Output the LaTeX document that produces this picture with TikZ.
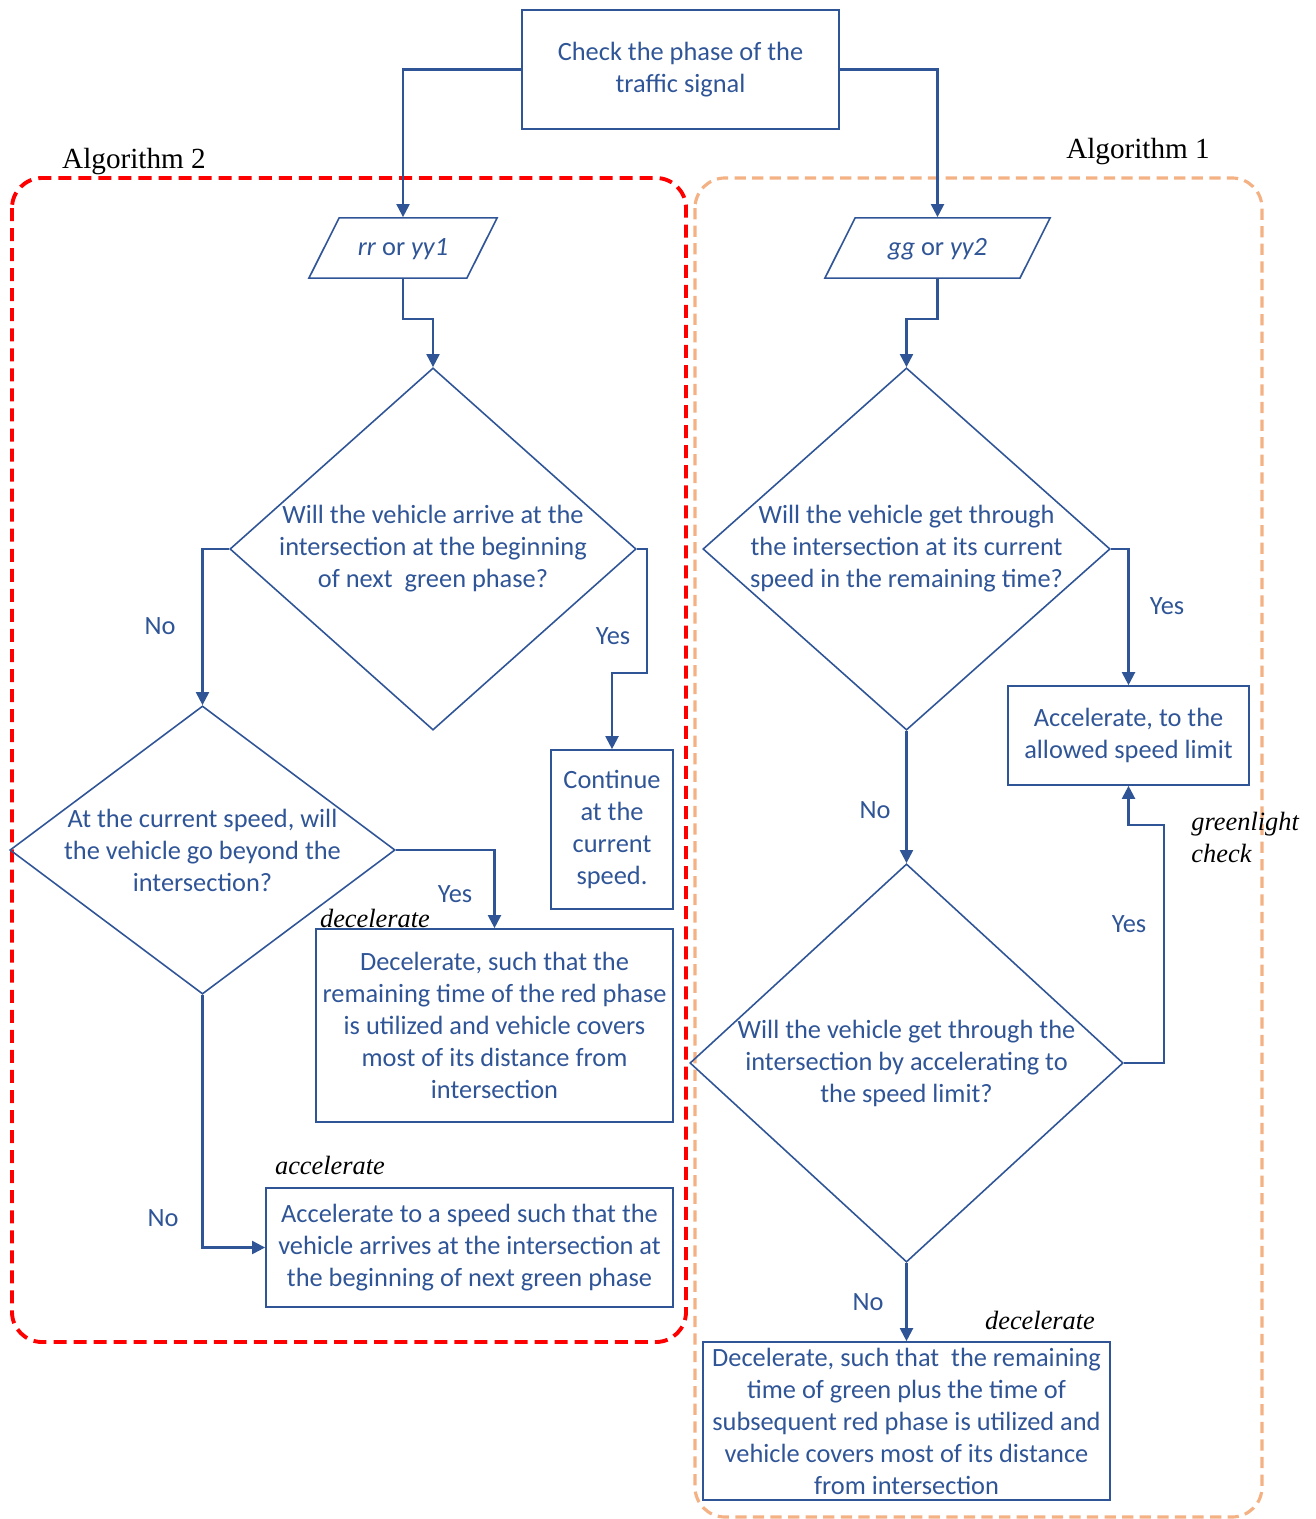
\documentclass[tikz,border=0pt]{standalone}
\usepackage{fontspec}
\setmainfont{Liberation Serif}
\newfontfamily\flowfont{Carlito}
\usepackage{xcolor}
\usetikzlibrary{shapes.geometric, arrows.meta, calc}

\definecolor{flowblue}{HTML}{2F5597}
\definecolor{algored}{HTML}{FF0000}
\definecolor{algoorange}{HTML}{F4B183}

\begin{document}
\begin{tikzpicture}[
  x=0.01cm, y=-0.01cm,
  every node/.style={font=\flowfont\fontsize{7.5}{9.1}\selectfont, text=flowblue},
  proc/.style={draw=flowblue, line width=0.45pt, inner sep=0pt, align=center},
  io/.style={draw=flowblue, line width=0.45pt, trapezium, trapezium left angle=63.4, trapezium right angle=116.6, trapezium stretches body=true, text height=6pt, text depth=2pt, inner xsep=0pt, inner ysep=0.16cm, minimum height=0.6cm},
  decision/.style={draw=flowblue, line width=0.45pt, diamond, inner sep=0pt},
  qtext/.style={align=center},
  note/.style={font=\rmfamily\itshape\fontsize{7.5}{9.1}\selectfont, text=black},
  algo/.style={font=\rmfamily\fontsize{8.3}{10}\selectfont, text=black},
  arrow/.style={draw=flowblue, line width=0.6pt, -{Triangle[length=3.7pt, width=3.7pt]}},
  frame/.style={rounded corners=0.3cm},
]
\useasboundingbox (0,0) rectangle (1316,1519);

% Algorithm frames
\draw[frame, draw=algored, line width=1.1pt, dash pattern=on 3.7pt off 2pt] (12,178) rectangle (686,1342);
\draw[frame, draw=algoorange, line width=0.9pt, dash pattern=on 3.2pt off 1.8pt] (695,178) rectangle (1262,1517);
\node[algo] (alg2) at (134,162) {Algorithm 2};
\node[algo] (alg1) at (1138,152) {Algorithm 1};

% Signal phase
\node[proc, minimum width=3.17cm, minimum height=1.19cm] (check) at (680.5,69.5) {Check the phase of the\\traffic signal};
\node[io, minimum width=1.88cm] (rr) at (403,248) {\textit{rr} or \textit{yy1}};
\node[io, minimum width=2.25cm] (gg) at (937.5,248) {\textit{gg} or \textit{yy2}};

% Algorithm 2 (left)
\node[decision, minimum width=4.06cm, minimum height=3.62cm,
  label={[qtext]center:{Will the vehicle arrive at the\\intersection at the beginning\\of next~ green phase?}}] (q1) at (433,549) {};
\node[decision, minimum width=3.85cm, minimum height=2.88cm,
  label={[qtext]center:{At the current speed, will\\the vehicle go beyond the\\intersection?}}] (q2) at (202.5,850) {};
\node[proc, minimum width=1.22cm, minimum height=1.59cm] (cont) at (612,829.5) {Continue\\at the\\current\\speed.};
\node[proc, minimum width=3.57cm, minimum height=1.93cm] (dec) at (494.5,1025.5) {Decelerate, such that the\\remaining time of the red phase\\is utilized and vehicle covers\\most of its distance from\\intersection};
\node[proc, minimum width=4.07cm, minimum height=1.19cm] (acc) at (469.5,1247.5) {Accelerate to a speed such that the\\vehicle arrives at the intersection at\\the beginning of next green phase};

% Algorithm 1 (right)
\node[decision, minimum width=4.07cm, minimum height=3.62cm,
  label={[qtext]center:{Will the vehicle get through\\the intersection at its current\\speed in the remaining time?}}] (q3) at (906.5,549) {};
\node[decision, minimum width=4.33cm, minimum height=3.98cm,
  label={[qtext]center:{Will the vehicle get through the\\intersection by accelerating to\\the speed limit?}}] (q4) at (906.5,1063) {};
\node[proc, minimum width=2.41cm, minimum height=0.99cm] (accr) at (1128.5,735.5) {Accelerate, to the\\allowed speed limit};
\node[proc, minimum width=4.07cm, minimum height=1.58cm] (decr) at (906.5,1421) {Decelerate, such that~ the remaining\\time of green plus the time of\\subsequent red phase is utilized and\\vehicle covers most of its distance\\from intersection};

% connectors
\draw[arrow] (check.west) -| (rr.north);
\draw[arrow] (check.east) -| (gg.north);
\draw[arrow] (rr.south) |- ($(rr.south)!0.45!(q1.north)$) -| (q1.north);
\draw[arrow] (q1.west) -| (q2.north);
\draw[arrow] (q1.east) -| ++(10,124) -| (cont.north);
\draw[arrow] (q2.east) -| (dec.north);
\draw[arrow] (q2.south) |- (acc.west);
\draw[arrow] (gg.south) |- ($(gg.south)!0.45!(q3.north)$) -| (q3.north);
\draw[arrow] (q3.east) -| (accr.north);
\draw[arrow] (q3.south) -- (q4.north);
\draw[arrow] (q4.east) -| ++(40,-238) -| (accr.south);
\draw[arrow] (q4.south) -- (decr.north);

% answers
\node (no1) at (160,626) {No};
\node (yes1) at (613,636) {Yes};
\node (yes2) at (455,894) {Yes};
\node (no2) at (163,1218) {No};
\node (yes3) at (1167,606) {Yes};
\node (no3) at (875,810) {No};
\node (yes4) at (1129,924) {Yes};
\node (no4) at (868,1302) {No};

% notes
\node[note] (decnote) at (375,918) {decelerate};
\node[note] (accnote) at (330,1165) {accelerate};
\node[note] (decrnote) at (1040,1320) {decelerate};
\node[note, align=left, anchor=west] (gcheck) at (1179,837) {greenlight\\check};
\end{tikzpicture}
\end{document}
